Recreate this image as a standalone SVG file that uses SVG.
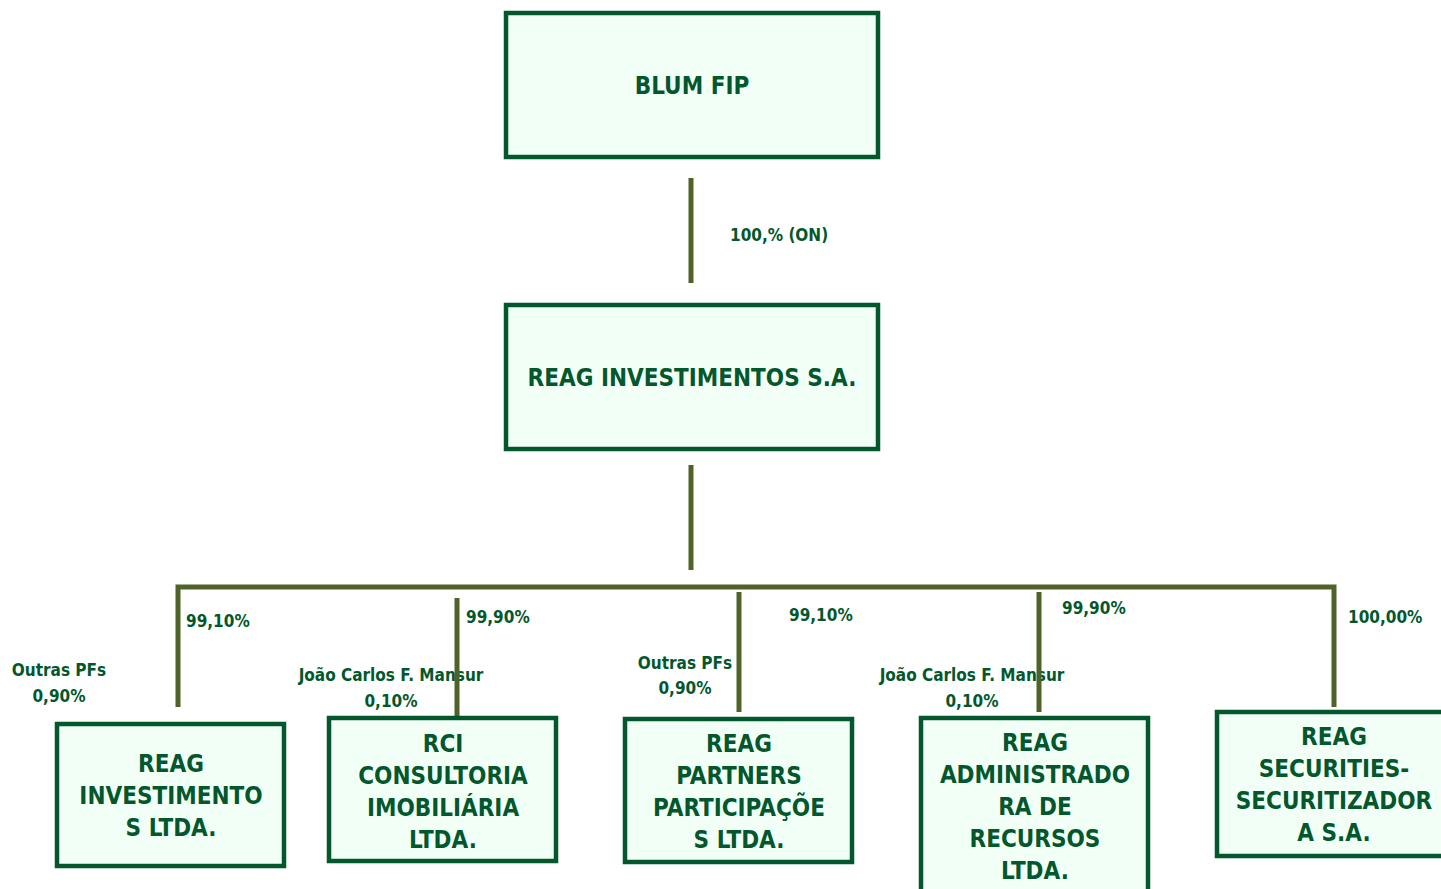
<svg xmlns="http://www.w3.org/2000/svg" width="1441" height="889" viewBox="0 0 1441 889">
<style>
.box{fill:#F2FFF7;stroke:#03572C;stroke-width:4.5;}
.bt{font-family:"DejaVu Sans Condensed","DejaVu Sans",sans-serif;font-stretch:condensed;font-weight:bold;font-size:24px;fill:#03572C;text-anchor:middle;dominant-baseline:central;}
.lb{font-family:"DejaVu Sans Condensed","DejaVu Sans",sans-serif;font-stretch:condensed;font-weight:bold;font-size:17px;fill:#03572C;dominant-baseline:central;}
.c{text-anchor:middle;}
.ln{stroke:#4F6228;stroke-width:5;fill:none;}
</style>
<rect width="1441" height="889" fill="#FFFFFF"/>
<g id="labels">
<text class="lb" x="730" y="235">100,% (ON)</text>
<text class="lb" x="186" y="621">99,10%</text>
<text class="lb c" x="59" y="670">Outras PFs</text>
<text class="lb c" x="59" y="696">0,90%</text>
<text class="lb" x="466" y="617">99,90%</text>
<text class="lb c" x="391" y="675">João Carlos F. Mansur</text>
<text class="lb c" x="391" y="701">0,10%</text>
<text class="lb c" x="685" y="663">Outras PFs</text>
<text class="lb c" x="685" y="688">0,90%</text>
<text class="lb" x="789" y="615">99,10%</text>
<text class="lb c" x="972" y="675">João Carlos F. Mansur</text>
<text class="lb c" x="972" y="701">0,10%</text>
<text class="lb" x="1062" y="608">99,90%</text>
<text class="lb" x="1348" y="617">100,00%</text>
</g>
<g id="connectors">
<line class="ln" x1="691" y1="178" x2="691" y2="283"/>
<line class="ln" x1="691" y1="465" x2="691" y2="570"/>
<polyline class="ln" points="178,707 178,587 1334,587 1334,707"/>
<line class="ln" x1="457" y1="598" x2="457" y2="717"/>
<line class="ln" x1="739" y1="592" x2="739" y2="712"/>
<line class="ln" x1="1039" y1="592" x2="1039" y2="712"/>
</g>
<g id="blum-fip">
<rect class="box" x="506" y="13" width="372" height="144"/>
<text class="bt" x="692" y="86">BLUM FIP</text>
</g>
<g id="reag-investimentos-sa">
<rect class="box" x="506" y="305" width="372" height="144"/>
<text class="bt" x="692" y="378">REAG INVESTIMENTOS S.A.</text>
</g>
<g id="reag-investimentos-ltda">
<rect class="box" x="57" y="724" width="227" height="142"/>
<text class="bt" x="171" y="764">REAG</text>
<text class="bt" x="171" y="796">INVESTIMENTO</text>
<text class="bt" x="171" y="828">S LTDA.</text>
</g>
<g id="rci-consultoria">
<rect class="box" x="329" y="718" width="227" height="143"/>
<text class="bt" x="443" y="744">RCI</text>
<text class="bt" x="443" y="776">CONSULTORIA</text>
<text class="bt" x="443" y="808">IMOBILIÁRIA</text>
<text class="bt" x="443" y="840">LTDA.</text>
</g>
<g id="reag-partners">
<rect class="box" x="625" y="719" width="227" height="143"/>
<text class="bt" x="739" y="744">REAG</text>
<text class="bt" x="739" y="776">PARTNERS</text>
<text class="bt" x="739" y="808">PARTICIPAÇÕE</text>
<text class="bt" x="739" y="840">S LTDA.</text>
</g>
<g id="reag-administradora">
<rect class="box" x="921" y="718" width="227" height="180"/>
<text class="bt" x="1035" y="743">REAG</text>
<text class="bt" x="1035" y="775">ADMINISTRADO</text>
<text class="bt" x="1035" y="807">RA DE</text>
<text class="bt" x="1035" y="839">RECURSOS</text>
<text class="bt" x="1035" y="871">LTDA.</text>
</g>
<g id="reag-securities">
<rect class="box" x="1217" y="712" width="240" height="144"/>
<text class="bt" x="1334" y="737">REAG</text>
<text class="bt" x="1334" y="769">SECURITIES-</text>
<text class="bt" x="1334" y="801">SECURITIZADOR</text>
<text class="bt" x="1334" y="833">A S.A.</text>
</g>
</svg>
